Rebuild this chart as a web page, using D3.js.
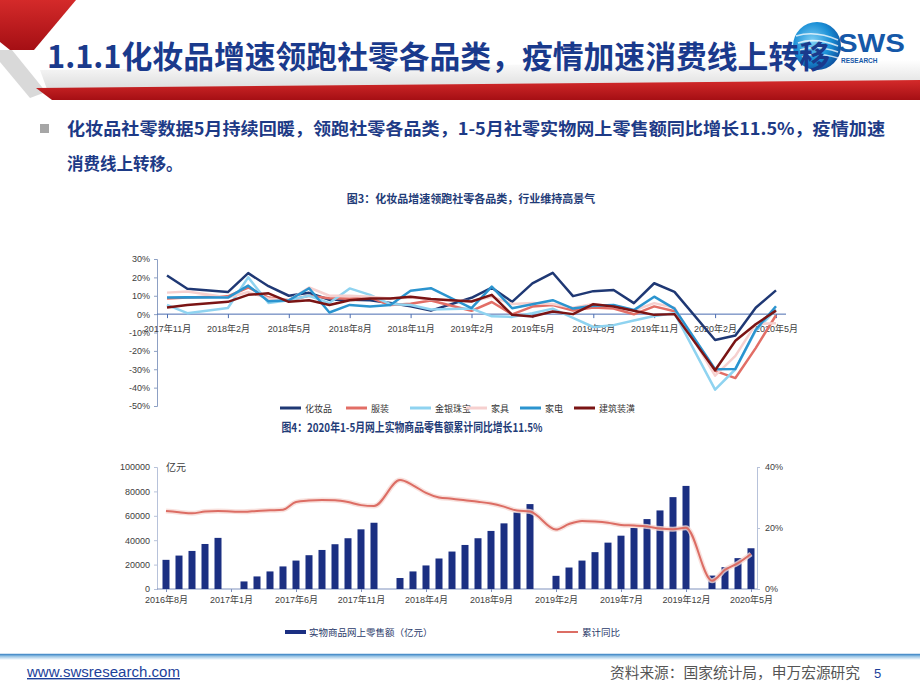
<!DOCTYPE html>
<html><head><meta charset="utf-8">
<script src="https://cdn.jsdelivr.net/npm/d3@7"></script>
<style>body{margin:0;background:#fff;}svg{display:block;}</style>
</head><body>
<svg id="c" width="920" height="690"></svg>
<script>
// ---------------- DATA ----------------
const retailMonths = ["2017-11","2017-12","2018-02","2018-03","2018-04","2018-05","2018-06","2018-07","2018-08","2018-09","2018-10","2018-11","2018-12","2019-02","2019-03","2019-04","2019-05","2019-06","2019-07","2019-08","2019-09","2019-10","2019-11","2019-12","2020-02","2020-03","2020-04","2020-05"];
const cosmetics   = [21.0,13.8,12.0,22.3,15.2,10.0,11.6,7.8,7.8,7.5,6.0,4.3,1.9,8.9,14.4,6.7,16.7,22.5,9.8,12.5,13.1,6.0,16.8,12.1,-14.1,-11.6,3.5,12.9];
const clothing    = [8.5,9.0,9.7,14.5,9.0,7.5,10.0,8.7,8.4,9.0,4.9,5.6,7.4,1.8,6.6,-0.1,4.1,5.0,2.0,3.6,3.1,-0.1,4.2,1.6,-30.9,-34.8,-18.5,-0.6];
const jewelry     = [5.0,0.5,3.3,20.0,6.0,7.5,10.0,6.0,14.0,10.5,5.5,5.0,2.5,3.0,-1.2,-1.5,0.5,3.0,-2.0,-7.0,-6.0,-3.5,-1.0,0.5,-41.1,-30.0,-9.0,2.5];
const furniture   = [11.7,12.3,9.0,12.0,8.5,7.5,14.5,10.0,10.0,9.5,8.5,9.0,8.0,7.0,9.5,5.5,6.0,5.5,3.5,5.5,4.0,2.0,6.0,3.5,-33.5,-22.7,-5.4,-5.0];
const appliances  = [9.0,9.2,9.0,15.5,7.0,7.5,14.1,0.9,5.0,4.2,5.0,12.7,14.1,3.3,15.0,3.2,5.4,7.6,3.0,4.5,5.0,2.2,9.5,3.0,-30.0,-29.8,-8.5,4.3];
const building    = [3.6,5.0,6.7,10.5,11.3,6.7,7.6,5.0,7.6,8.5,8.5,9.5,8.2,6.9,10.5,-0.4,-1.3,1.4,0.0,5.4,4.2,1.8,-0.4,0.0,-30.5,-14.5,-5.5,1.9];
const retailSeriesNames = ["化妆品","服装","金银珠宝","家具","家电","建筑装潢"];
const retailTickMonths = ["2017-11","2018-02","2018-05","2018-08","2018-11","2019-02","2019-05","2019-08","2019-11","2020-02","2020-05"];
const retailYTicks = [30,20,10,0,-10,-20,-30,-40,-50];

const onlineMonths = ["2016-08","2016-09","2016-10","2016-11","2016-12",
 "2017-02","2017-03","2017-04","2017-05","2017-06","2017-07","2017-08","2017-09","2017-10","2017-11","2017-12",
 "2018-02","2018-03","2018-04","2018-05","2018-06","2018-07","2018-08","2018-09","2018-10","2018-11","2018-12",
 "2019-02","2019-03","2019-04","2019-05","2019-06","2019-07","2019-08","2019-09","2019-10","2019-11","2019-12",
 "2020-02","2020-03","2020-04","2020-05"];
const onlineSales = [23900,27400,31200,36900,41900,
 6200,10300,14400,18500,23300,27700,32000,36700,41600,48900,54300,
 9000,14400,19300,25000,30700,36100,41600,47600,53800,62800,69600,
 10800,17600,23300,30200,38000,43700,50000,57300,64400,75300,84500,
 11000,17900,25300,33400];
const onlineYoY = [25.6,25.2,24.8,25.4,25.6,
 25.3,25.6,25.8,26.0,28.5,29.0,29.2,29.1,28.5,27.5,27.2,
 35.7,34.0,31.5,30.0,29.6,29.1,28.6,28.0,27.0,25.7,25.4,
 19.5,21.3,22.3,22.1,21.7,21.0,20.8,20.5,19.8,19.6,20.1,
 2.7,6.3,8.5,11.5];
const onlineTickMonths = ["2016-08","2017-01","2017-06","2017-11","2018-04","2018-09","2019-02","2019-07","2019-12","2020-05"];
const salesTicks = [0,20000,40000,60000,80000,100000];
const yoyTicks = [0,20,40];

// ---------------- HELPERS ----------------
const svg = d3.select('#c');
const CJK = '"Noto Sans CJK SC","Noto Sans",sans-serif';
const LAT = '"Liberation Sans",Arial,"Noto Sans CJK SC",sans-serif';
const NAVY = '#1d3a86';
const mi = s => { const [y,m] = s.split('-').map(Number); return y*12 + m - 1; };
const monthLabel = s => { const [y,m] = s.split('-').map(Number); return y + '年' + m + '月'; };

// ---------------- HEADER ----------------
const defs = svg.append('defs');
const g1 = defs.append('linearGradient').attr('id','shade').attr('x1',0).attr('y1',0).attr('x2',0).attr('y2',1);
g1.append('stop').attr('offset','0%').attr('stop-color','#ffffff');
g1.append('stop').attr('offset','100%').attr('stop-color','#d9d9d9');
const g2 = defs.append('linearGradient').attr('id','redband').attr('x1',0).attr('y1',0).attr('x2',0).attr('y2',1);
g2.append('stop').attr('offset','0%').attr('stop-color','#d42a2a');
g2.append('stop').attr('offset','100%').attr('stop-color','#a50f14');
const g3 = defs.append('radialGradient').attr('id','globe').attr('cx','40%').attr('cy','40%').attr('r','65%');
g3.append('stop').attr('offset','0%').attr('stop-color','#7fd0f5');
g3.append('stop').attr('offset','60%').attr('stop-color','#1a8fd6');
g3.append('stop').attr('offset','100%').attr('stop-color','#0d4f9e');
const g4 = defs.append('linearGradient').attr('id','foot').attr('x1',0).attr('y1',0).attr('x2',0).attr('y2',1);
g4.append('stop').attr('offset','0%').attr('stop-color','#5a9fd4');
g4.append('stop').attr('offset','100%').attr('stop-color','#ffffff');

svg.append('path').attr('d','M40,70 L920,60 L920,84 L48,92 Z').attr('fill','url(#shade)');
svg.append('path').attr('d','M0,0 L76,0 L34,50 L10,50 L0,42 Z').attr('fill','url(#redband)');
svg.append('path').attr('d','M0,50 L12,50 L46,92 L30,98 L0,62 Z').attr('fill','#d9d9d9');
svg.append('path').attr('d','M36,88 L920,80 L920,100 L52,100 Z').attr('fill','url(#redband)');

// logo
const logo = svg.append('g');
logo.append('circle').attr('cx',817).attr('cy',46).attr('r',24).attr('fill','url(#globe)');
[0,1,2,3].forEach(i=>{
  logo.append('path').attr('d',`M${796+i*2},${36+i*7} Q${815},${30+i*7} ${838},${40+i*6}`)
    .attr('fill','none').attr('stroke','#ffffff').attr('stroke-width',1.6).attr('opacity',0.75);
});
logo.append('text').attr('x',838).attr('y',52).attr('font-family',LAT).attr('font-weight','bold')
  .attr('font-size',26).attr('fill','#1558a8').attr('textLength',67).attr('lengthAdjust','spacingAndGlyphs').text('SWS');
logo.append('text').attr('x',841).attr('y',63).attr('font-family',LAT).attr('font-weight','bold')
  .attr('font-size',6.5).attr('fill','#1558a8').text('RESEARCH');

// title
svg.append('text').attr('x',47).attr('y',68).attr('font-family',CJK).attr('font-weight','bold')
  .attr('font-size',31).attr('fill','#1a3a8c').attr('textLength',783).attr('lengthAdjust','spacingAndGlyphs')
  .text('1.1.1化妆品增速领跑社零各品类，疫情加速消费线上转移');

// bullet text
svg.append('rect').attr('x',40).attr('y',124).attr('width',9).attr('height',9).attr('fill','#a6a6a6');
svg.append('text').attr('x',67).attr('y',135).attr('font-family',CJK).attr('font-weight','bold')
  .attr('font-size',16.5).attr('fill',NAVY).attr('textLength',818).attr('lengthAdjust','spacingAndGlyphs')
  .text('化妆品社零数据5月持续回暖，领跑社零各品类，1-5月社零实物网上零售额同比增长11.5%，疫情加速');
svg.append('text').attr('x',67).attr('y',170).attr('font-family',CJK).attr('font-weight','bold')
  .attr('font-size',16.5).attr('fill',NAVY).text('消费线上转移。');

// ---------------- CHART 1 ----------------
svg.append('text').attr('x',471).attr('y',203).attr('text-anchor','middle').attr('font-family',CJK)
  .attr('font-weight','bold').attr('font-size',11).attr('fill','#1f3c78')
  .text('图3：化妆品增速领跑社零各品类，行业维持高景气');

const x1 = d3.scaleLinear().domain([mi('2017-11'), mi('2020-05')]).range([167, 776]);
const y1 = d3.scaleLinear().domain([-50, 30]).range([406, 259]);
const c1 = svg.append('g');

const yAx1 = d3.axisLeft(y1).tickValues(retailYTicks).tickFormat(d => d + '%').tickSize(3).tickPadding(4);
c1.append('g').attr('transform','translate(157,0)').call(yAx1)
  .call(g => { g.select('.domain').attr('stroke','#8da0c4');
               g.selectAll('line').attr('stroke','#8da0c4');
               g.selectAll('text').attr('font-family',LAT).attr('font-size',9).attr('fill','#404040'); });

const xAx1 = d3.axisBottom(x1).tickValues(retailTickMonths.map(mi))
  .tickFormat((d,i) => monthLabel(retailTickMonths[i])).tickSize(4).tickPadding(7).tickSizeOuter(0);
c1.append('g').attr('transform',`translate(0,${y1(0)})`).call(xAx1)
  .call(g => { g.select('.domain').attr('stroke','#4a6cb0').attr('d',`M157,0H786`);
               g.selectAll('line').attr('stroke','#4a6cb0');
               g.selectAll('text').attr('font-family',LAT).attr('font-size',9).attr('fill','#404040'); });

const retailSeries = [
  {name: retailSeriesNames[0], values: cosmetics,  color: '#1f3874'},
  {name: retailSeriesNames[1], values: clothing,   color: '#e26e66'},
  {name: retailSeriesNames[2], values: jewelry,    color: '#8fd3f0'},
  {name: retailSeriesNames[3], values: furniture,  color: '#f6d0cf'},
  {name: retailSeriesNames[4], values: appliances, color: '#2b94cf'},
  {name: retailSeriesNames[5], values: building,   color: '#7a1414'}
];
const line1 = d3.line().x((d,i) => x1(mi(retailMonths[i]))).y(d => y1(d));
retailSeries.forEach(s => {
  c1.append('path').attr('d', line1(s.values)).attr('fill','none')
    .attr('stroke', s.color).attr('stroke-width', 2.5).attr('stroke-linejoin','round');
});

const leg1X = [280, 346, 410, 466, 520, 574];
retailSeries.forEach((s,i) => {
  c1.append('line').attr('x1',leg1X[i]).attr('x2',leg1X[i]+21).attr('y1',408).attr('y2',408)
    .attr('stroke',s.color).attr('stroke-width',3);
  c1.append('text').attr('x',leg1X[i]+25).attr('y',411.5).attr('font-family',CJK).attr('font-size',9)
    .attr('fill','#333').text(s.name);
});

// ---------------- CHART 2 ----------------
svg.append('text').attr('x',412).attr('y',432).attr('text-anchor','middle').attr('font-family',CJK)
  .attr('font-weight','bold').attr('font-size',12).attr('fill','#1f3c78').attr('textLength',261)
  .attr('lengthAdjust','spacingAndGlyphs')
  .text('图4：2020年1-5月网上实物商品零售额累计同比增长11.5%');

const xb = d3.scaleLinear().domain([mi('2016-08'), mi('2020-05')]).range([166, 751]);
const yL = d3.scaleLinear().domain([0, 100000]).range([589, 467]);
const yR = d3.scaleLinear().domain([0, 40]).range([589, 467]);
const c2 = svg.append('g');

c2.append('g').attr('transform','translate(157,0)')
  .call(d3.axisLeft(yL).tickValues(salesTicks).tickFormat(d3.format('d')).tickSize(3).tickPadding(4))
  .call(g => { g.select('.domain').attr('stroke','#b7c2da');
               g.selectAll('line').attr('stroke','#b7c2da');
               g.selectAll('text').attr('font-family',LAT).attr('font-size',9).attr('fill','#404040'); });
c2.append('g').attr('transform','translate(757,0)')
  .call(d3.axisRight(yR).tickValues(yoyTicks).tickFormat(d => d + '%').tickSize(3).tickPadding(5))
  .call(g => { g.select('.domain').attr('stroke','#b7c2da');
               g.selectAll('line').attr('stroke','#b7c2da');
               g.selectAll('text').attr('font-family',LAT).attr('font-size',9).attr('fill','#404040'); });
c2.append('g').attr('transform','translate(0,589)')
  .call(d3.axisBottom(xb).tickValues(onlineTickMonths.map(mi)).tickFormat((d,i) => monthLabel(onlineTickMonths[i]))
        .tickSize(3).tickPadding(5).tickSizeOuter(0))
  .call(g => { g.select('.domain').attr('stroke','#7f91bd').attr('d','M157,0H757');
               g.selectAll('line').attr('stroke','#7f91bd');
               g.selectAll('text').attr('font-family',LAT).attr('font-size',9).attr('fill','#404040'); });

c2.append('text').attr('x',166).attr('y',471).attr('font-family',CJK).attr('font-size',10).attr('fill','#404040').text('亿元');

c2.selectAll('rect.bar').data(onlineSales).join('rect').attr('class','bar')
  .attr('x', (d,i) => xb(mi(onlineMonths[i])) - 3.5).attr('width', 7)
  .attr('y', d => yL(d)).attr('height', d => yL(0) - yL(d)).attr('fill', '#1b2f82');

const line2 = d3.line().x((d,i) => xb(mi(onlineMonths[i]))).y(d => yR(d)).curve(d3.curveMonotoneX);
c2.append('path').attr('d', line2(onlineYoY)).attr('fill','none').attr('stroke','#f6d8d3').attr('stroke-width',5).attr('opacity',0.8);
c2.append('path').attr('d', line2(onlineYoY)).attr('fill','none').attr('stroke','#dc6d64').attr('stroke-width',2);

c2.append('rect').attr('x',285).attr('y',630).attr('width',21).attr('height',4).attr('fill','#1b2f82');
c2.append('text').attr('x',309).attr('y',636).attr('font-family',CJK).attr('font-size',9.5).attr('fill','#2a3a6a').text('实物商品网上零售额（亿元）');
c2.append('line').attr('x1',557).attr('x2',578).attr('y1',632).attr('y2',632).attr('stroke','#dc6d64').attr('stroke-width',2);
c2.append('text').attr('x',582).attr('y',636).attr('font-family',CJK).attr('font-size',9.5).attr('fill','#2a3a6a').text('累计同比');

// ---------------- FOOTER ----------------
svg.append('rect').attr('x',0).attr('y',654).attr('width',920).attr('height',6).attr('fill','url(#foot)');
svg.append('line').attr('x1',0).attr('x2',920).attr('y1',654.5).attr('y2',654.5).attr('stroke','#4c8fca').attr('stroke-width',1.5);
svg.append('text').attr('x',27).attr('y',677).attr('font-family',LAT).attr('font-size',14).attr('fill','#1c3f9a')
  .attr('text-decoration','underline').attr('textLength',153).attr('lengthAdjust','spacingAndGlyphs').text('www.swsresearch.com');
svg.append('text').attr('x',610).attr('y',678).attr('font-family',CJK).attr('font-size',14.5).attr('fill','#555')
  .attr('textLength',250).attr('lengthAdjust','spacingAndGlyphs').text('资料来源：国家统计局，申万宏源研究');
svg.append('text').attr('x',874).attr('y',678).attr('font-family',LAT).attr('font-size',13).attr('fill','#1c3f9a').text('5');
</script>
</body></html>
